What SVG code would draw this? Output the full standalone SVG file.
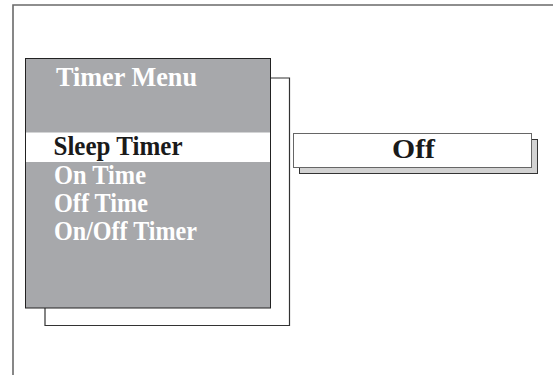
<svg xmlns="http://www.w3.org/2000/svg" width="553" height="375" viewBox="0 0 553 375">
<style>
.t{font-family:"Liberation Serif","Times New Roman",serif;font-weight:bold;font-size:27px}
.w{fill:#ffffff}
.k{fill:#1a1a1a}
.ln{fill:none;stroke:#333;stroke-width:1.2}
</style>
<rect width="553" height="375" fill="#fff"/>
<g id="frame">
<path d="M13 375 V5 H553" fill="none" stroke="#6a6a6a" stroke-width="1.6"/>
</g>
<g id="connectors">
<path class="ln" d="M270.5 78 H289.5 V325.5 H45 V308"/>
</g>
<g id="menu">
<rect x="25.5" y="58.5" width="245" height="249.5" fill="#a7a8ab" stroke="#222" stroke-width="1"/>
<rect x="26" y="132.5" width="244" height="29.5" fill="#fff"/>
<text class="t w" x="56" y="86" textLength="141" lengthAdjust="spacingAndGlyphs">Timer Menu</text>
<text class="t k" x="53.5" y="155" textLength="129" lengthAdjust="spacingAndGlyphs">Sleep Timer</text>
<text class="t w" x="54" y="184" textLength="92" lengthAdjust="spacingAndGlyphs">On Time</text>
<text class="t w" x="54" y="212" textLength="94" lengthAdjust="spacingAndGlyphs">Off Time</text>
<text class="t w" x="54" y="240" textLength="143" lengthAdjust="spacingAndGlyphs">On/Off Timer</text>
</g>
<g id="off">
<rect x="299.5" y="139.5" width="238" height="34" fill="#d2d2d2" stroke="#333" stroke-width="1"/>
<rect x="293.5" y="133.5" width="238" height="34" fill="#fff" stroke="#666" stroke-width="1"/>
<text class="t k" x="392" y="158" textLength="43" lengthAdjust="spacingAndGlyphs">Off</text>
</g>
</svg>
